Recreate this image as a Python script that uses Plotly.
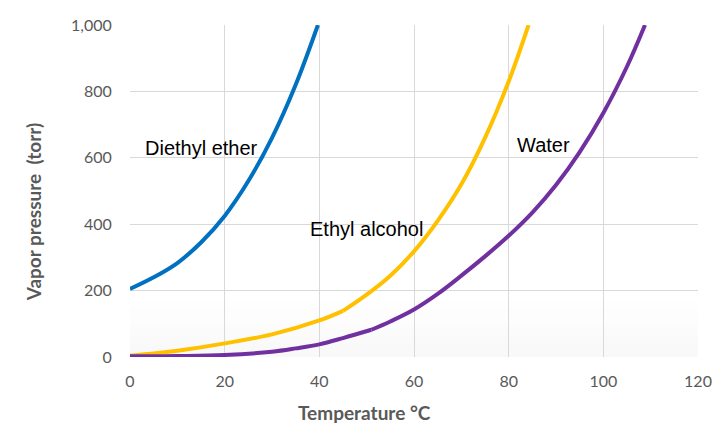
import plotly.graph_objects as go

# Data
ether_t = [0, 5, 10, 15, 20, 25, 30, 35, 39.7]
ether_p = [205, 240, 283, 345, 425, 530, 660, 820, 1000]

alcohol_t = [0, 10, 20, 30, 40, 45, 50, 55, 60, 65, 70, 75, 80, 84.2]
alcohol_p = [4, 19, 41, 68, 110, 139, 188, 245, 318, 410, 520, 660, 830, 1000]

water_t = [0, 10, 20, 30, 35, 40, 45, 51, 55, 60, 65, 70, 75, 80, 85, 90, 95, 100, 105, 108.8]
water_p = [2, 3, 6, 16, 26, 38, 57, 82, 107, 143, 190, 245, 303, 365, 435, 518, 617, 735, 875, 1000]

x_ticks = [0, 20, 40, 60, 80, 100, 120]
y_ticks = [0, 200, 400, 600, 800, 1000]
y_ticklabels = ["0", "200", "400", "600", "800", "1,000"]

# name, x, y, colour, label position, index of the visible kink (None if smooth)
series = [
    ("Diethyl ether", ether_t, ether_p, "#0070C0", 2.8, 630, None),
    ("Ethyl alcohol", alcohol_t, alcohol_p, "#FFC000", 37.7, 386, 5),
    ("Water", water_t, water_p, "#7030A0", 81.4, 639, 7),
]

fig = go.Figure()
for name, t, p, color, lx, ly, kink in series:
    parts = [(t, p)] if kink is None else [(t[:kink + 1], p[:kink + 1]), (t[kink:], p[kink:])]
    for xs, ys in parts:
        fig.add_trace(go.Scatter(x=xs, y=ys, mode="lines", name=name,
                                 line=dict(color=color, width=4, shape="spline", smoothing=1.0),
                                 showlegend=False))
    fig.add_annotation(x=lx, y=ly, text=name, showarrow=False, xanchor="left",
                       yanchor="middle",
                       font=dict(family="Liberation Sans, Arial", size=20, color="#000000"))

# faint gradient at the bottom of the plot area
n = 8
for i in range(n):
    y0 = i / n * 0.17
    y1 = (i + 1) / n * 0.17
    fig.add_shape(type="rect", xref="paper", yref="paper", x0=0, x1=1, y0=y0, y1=y1,
                  fillcolor="rgba(0,0,0,%.4f)" % (0.025 * (1 - i / n)), line=dict(width=0),
                  layer="below")

axis_font = dict(family="Lato, Open Sans, sans-serif", size=16, color="#595959")

fig.update_xaxes(range=[0, 120], tickvals=x_ticks, showgrid=True, gridcolor="#D9D9D9",
                 gridwidth=1, zeroline=False, showline=False, ticks="outside",
                 ticklen=10, tickcolor="rgba(0,0,0,0)", tickfont=axis_font)
fig.update_yaxes(range=[0, 1000], tickvals=y_ticks, ticktext=y_ticklabels, showgrid=True,
                 gridcolor="#D9D9D9", gridwidth=1, zeroline=False, showline=False,
                 ticks="outside", ticklen=14, tickcolor="rgba(0,0,0,0)", tickfont=axis_font)

title_font = dict(family="Lato, Open Sans, sans-serif", size=19, color="#595959")
fig.add_annotation(xref="paper", yref="paper", x=(365 - 130) / 570, y=(357 - 413) / 332,
                   text="<b>Temperature °C</b>", showarrow=False, font=title_font,
                   xanchor="center", yanchor="middle")
fig.add_annotation(xref="paper", yref="paper", x=(33 - 130) / 570, y=(357 - 212) / 332,
                   text="<b>Vapor pressure  (torr)</b>", showarrow=False, font=title_font,
                   textangle=-90, xanchor="center", yanchor="middle")

fig.update_layout(width=724, height=440, margin=dict(l=130, r=24, t=25, b=83),
                  paper_bgcolor="white", plot_bgcolor="white")

fig.write_html("out.html")
